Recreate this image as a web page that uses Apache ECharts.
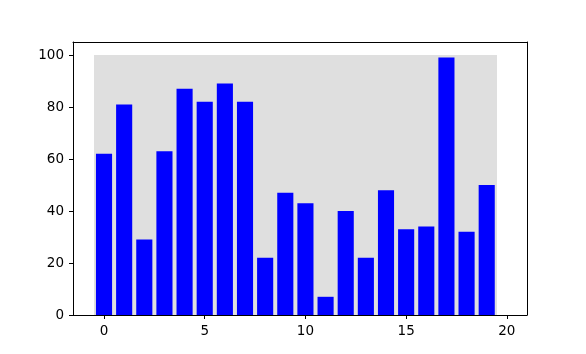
<!DOCTYPE html>
<html>
<head>
<meta charset="utf-8">
<script src="https://cdn.jsdelivr.net/npm/echarts@6/dist/echarts.min.js"></script>
<style>
html,body{margin:0;padding:0;background:#fff;}
#chart{width:586px;height:354px;}
</style>
</head>
<body>
<div id="chart"></div>
<script>
var positions = [0,1,2,3,4,5,6,7,8,9,10,11,12,13,14,15,16,17,18,19];
var values = [62,81,29,63,87,82,89,82,22,47,43,7,40,22,48,33,34,99,32,50];
var backgroundHeights = [100,100,100,100,100,100,100,100,100,100,100,100,100,100,100,100,100,100,100,100];
var xTicks = [0,5,10,15,20];
var yTicks = [0,20,40,60,80,100];

var chart = echarts.init(document.getElementById('chart'), null, {renderer:'canvas'});

function barRenderer(width, color, snap) {
  return function (params, api) {
    var x = api.value(0), h = api.value(1);
    var p0 = api.coord([x - width / 2, 0]);
    var p1 = api.coord([x + width / 2, h]);
    var x0 = p0[0], x1 = p1[0], y0 = p0[1], y1 = p1[1];
    if (snap) { x0 = Math.round(x0); x1 = Math.round(x1); y1 = Math.round(y1); y0 = Math.round(y0); }
    return {
      type: 'rect',
      shape: {x: x0, y: y1, width: x1 - x0, height: y0 - y1},
      style: {fill: color}
    };
  };
}

var font = {fontFamily: 'DejaVu Sans', fontSize: 13.5, color: '#000'};
var frameLine = {show: true, onZero: false, lineStyle: {color: '#000', width: 1}};

chart.setOption({
  animation: false,
  backgroundColor: '#fff',
  grid: {left: 73, right: 59, top: 42, bottom: 39, show: false},
  xAxis: [{
    type: 'value', min: -1.54, max: 21.0, position: 'bottom', z: 10,
    axisLine: frameLine,
    axisTick: {show: true, length: 4, lineStyle: {color: '#000'}, customValues: xTicks},
    axisLabel: Object.assign({margin: 9, customValues: xTicks}, font),
    splitLine: {show: false}
  }, {
    type: 'value', min: -1.54, max: 21.0, position: 'top', z: 10,
    axisLine: frameLine, axisTick: {show: false}, axisLabel: {show: false}, splitLine: {show: false}
  }],
  yAxis: [{
    type: 'value', min: 0, max: 105, position: 'left', z: 10,
    axisLine: frameLine,
    axisTick: {show: true, length: 4, lineStyle: {color: '#000'}, customValues: yTicks},
    axisLabel: Object.assign({margin: 9, customValues: yTicks}, font),
    splitLine: {show: false}
  }, {
    type: 'value', min: 0, max: 105, position: 'right', z: 10,
    axisLine: frameLine, axisTick: {show: false}, axisLabel: {show: false}, splitLine: {show: false}
  }],
  series: [
    {
      type: 'custom', renderItem: barRenderer(1.0, '#dfdfdf', true),
      data: positions.map(function (p, i) { return [p, backgroundHeights[i]]; }),
      clip: true, z: 1
    },
    {
      type: 'custom', renderItem: barRenderer(0.8, '#0000ff', false),
      data: positions.map(function (p, i) { return [p, values[i]]; }),
      clip: true, z: 2
    }
  ]
});
</script>
</body>
</html>
